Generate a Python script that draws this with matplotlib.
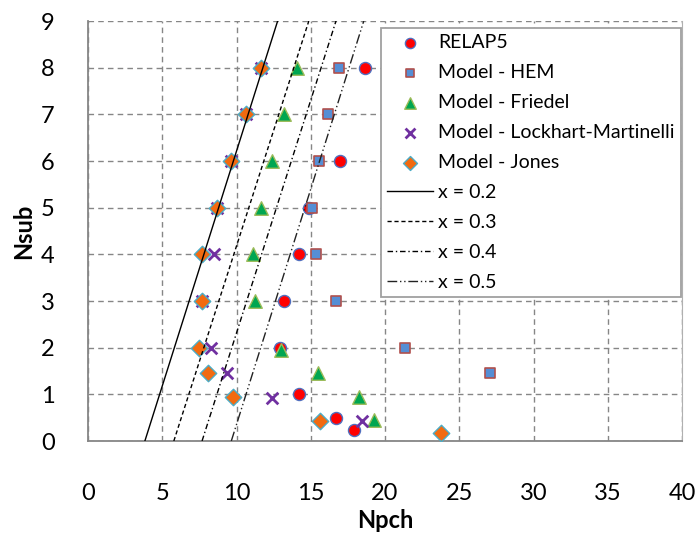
#!/usr/bin/env python3
"""Nsub vs Npch: RELAP5 and model predictions with constant-quality lines."""

import matplotlib
matplotlib.use("Agg")
import matplotlib.pyplot as plt

plt.rcParams["font.family"] = ["Lato", "DejaVu Sans"]

# --- data ---
relap5_npch = [18.66, 17.0, 14.87, 14.2, 13.19, 12.93, 14.2, 16.73, 17.9]
relap5_nsub = [8, 6, 5, 4, 3, 2, 1.0, 0.49, 0.23]

hem_npch = [16.9, 16.15, 15.55, 15.08, 15.37, 16.69, 21.35, 27.08]
hem_nsub = [8, 7, 6, 5, 4, 3, 2, 1.46]

friedel_npch = [14.09, 13.17, 12.39, 11.67, 11.11, 11.27, 13.0, 15.5, 18.28, 19.24]
friedel_nsub = [8, 7, 6, 5, 4, 3, 1.95, 1.45, 0.94, 0.45]

lm_npch = [11.63, 10.66, 9.65, 8.69, 8.49, 7.71, 8.27, 9.39, 12.41, 18.44]
lm_nsub = [8, 7, 6, 5, 4, 3, 2, 1.45, 0.93, 0.43]

jones_npch = [11.63, 10.66, 9.65, 8.69, 7.68, 7.71, 7.46, 8.09, 9.79, 15.59, 23.79]
jones_nsub = [8, 7, 6, 5, 4, 3, 2, 1.45, 0.94, 0.43, 0.18]

# constant-quality lines, Npch at Nsub = 0 and Nsub = 9
line_nsub = [0, 9]
x02_npch = [3.83, 12.77]
x03_npch = [5.78, 14.87]
x04_npch = [7.68, 16.70]
x05_npch = [9.65, 18.57]

x_ticks = [0, 5, 10, 15, 20, 25, 30, 35, 40]
y_ticks = [0, 1, 2, 3, 4, 5, 6, 7, 8, 9]

fig = plt.figure(figsize=(6.96, 5.33), dpi=100)
ax = fig.add_axes([88 / 696, 1 - 441 / 533, (682 - 88) / 696, (441 - 21) / 533])

ax.scatter(relap5_npch, relap5_nsub, s=75, marker="o", facecolor="#FF0000",
           edgecolor="#4F6FBF", linewidth=1.0, label="RELAP5", zorder=3)
ax.scatter(hem_npch, hem_nsub, s=52, marker="s", facecolor="#558ED5",
           edgecolor="#B0504D", linewidth=1.2, label="Model - HEM", zorder=3)
ax.scatter(friedel_npch, friedel_nsub, s=95, marker="^", facecolor="#00A651",
           edgecolor="#9BBB59", linewidth=1.0, label="Model - Friedel", zorder=3)
ax.scatter(lm_npch, lm_nsub, s=70, marker="x", color="#7030A0",
           linewidth=2.0, label="Model - Lockhart-Martinelli", zorder=3)
ax.scatter(jones_npch, jones_nsub, s=70, marker="D", facecolor="#F26A10",
           edgecolor="#4BACC6", linewidth=1.0, label="Model - Jones", zorder=3)

ax.plot(x02_npch, line_nsub, color="black", lw=1.0, ls="-", label="x = 0.2", zorder=4)
ax.plot(x03_npch, line_nsub, color="black", lw=1.0, ls=(0, (3, 2)), label="x = 0.3", zorder=4)
ax.plot(x04_npch, line_nsub, color="black", lw=1.0, ls=(0, (4, 2, 1, 2)), label="x = 0.4", zorder=4)
ax.plot(x05_npch, line_nsub, color="#222222", lw=1.0, ls=(0, (7, 2, 1, 2, 1, 2)),
        label="x = 0.5", zorder=4)

ax.set_xlim(0, 40)
ax.set_ylim(0, 9)
ax.set_xticks(x_ticks)
ax.set_yticks(y_ticks)
ax.tick_params(length=0, labelsize=17, colors="black")
ax.tick_params(axis="x", pad=30)
ax.tick_params(axis="y", pad=24)

ax.grid(True, color="#868686", ls=(0, (4, 3)), lw=1.0, zorder=0)
for side in ("left", "bottom"):
    ax.spines[side].set_color("#868686")
    ax.spines[side].set_linewidth(1.3)
ax.spines["right"].set_color("#B0B0B0")
ax.spines["top"].set_visible(False)

ax.set_xlabel("Npch", fontsize=17, fontweight="bold", labelpad=4)
ax.set_ylabel("Nsub", fontsize=17, fontweight="bold", labelpad=4)

leg = ax.legend(loc="upper left", bbox_to_anchor=(381 / 696, 1 - 28 / 533),
                bbox_transform=fig.transFigure, fontsize=14, frameon=True,
                fancybox=False, framealpha=1, edgecolor="#A0A0A0",
                borderpad=0.3, labelspacing=0.67, handlelength=2.35,
                handletextpad=0.3, borderaxespad=0, scatterpoints=1,
                markerscale=0.85)
leg.get_frame().set_linewidth(1.3)
leg.set_zorder(5)

fig.savefig("out.png", dpi=100)
